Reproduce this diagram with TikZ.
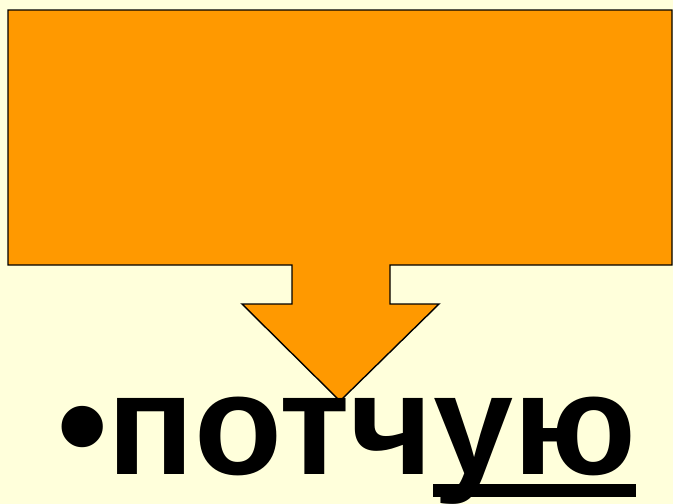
\documentclass[tikz,border=0pt]{standalone}
\usepackage{fontspec}
\setmainfont{Liberation Sans}
\usetikzlibrary{positioning}
\definecolor{slidebg}{HTML}{FFFFDB}
\definecolor{calloutorange}{HTML}{FF9900}
\tikzset{
  calloutbox/.style={draw=black, line width=1.4pt, fill=calloutorange, line join=miter},
  wordlabel/.style={font=\fontsize{144}{150}\selectfont\bfseries, inner sep=0pt, anchor=base west}
}
\newcommand{\ulword}[1]{{\setbox0\hbox{#1}\rlap{\rule[-23pt]{\wd0}{13pt}}#1}}

\begin{document}
\begin{tikzpicture}[x=1pt, y=-1pt]
  \fill[slidebg] (0,0) rectangle (673,504);
  \useasboundingbox (0,0) rectangle (673,504);
  % down-arrow callout
  \draw[calloutbox] (8,10) -- (672,10) -- (672,265) -- (390,265) -- (390,304)
    -- (439,304) -- (340,401) -- (242,304) -- (292,304) -- (292,265)
    -- (8,265) -- cycle;
  \node[wordlabel] (word) at (57,474) {•потч\ulword{ую}};
\end{tikzpicture}
\end{document}
